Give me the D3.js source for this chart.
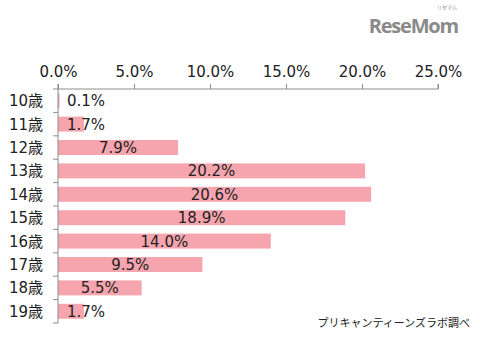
<!DOCTYPE html>
<html>
<head>
<meta charset="utf-8">
<script src="https://cdn.jsdelivr.net/npm/d3@7/dist/d3.min.js"></script>
<style>
  html, body { margin: 0; padding: 0; background: #ffffff; }
  svg { display: block; }
  text { font-family: "DejaVu Sans", "Noto Sans CJK JP", sans-serif; fill: #222; }
</style>
</head>
<body>
<svg id="chart" width="480" height="350"></svg>
<script>
// Age groups and share of respondents (%)
const ages = ["10歳", "11歳", "12歳", "13歳", "14歳", "15歳", "16歳", "17歳", "18歳", "19歳"];
const shares = [0.1, 1.7, 7.9, 20.2, 20.6, 18.9, 14.0, 9.5, 5.5, 1.7];
const xTicks = [0, 5, 10, 15, 20, 25];
const sourceNote = "プリキャンティーンズラボ調べ";

const data = ages.map((a, i) => ({ age: a, value: shares[i] }));

const svg = d3.select("#chart");
const plotL = 58, plotR = 438, plotT = 89, plotB = 323;

const x = d3.scaleLinear().domain([0, 25]).range([plotL, plotR]);
const y = d3.scaleBand().domain(ages).range([plotT, plotB]).paddingInner(0.36).paddingOuter(0.18);

const axisColor = "#8c8c8c";
const labelFont = "'DejaVu Sans', 'Noto Sans CJK JP', sans-serif";

// Bars
svg.append("g").selectAll("rect")
  .data(data)
  .join("rect")
  .attr("x", x(0))
  .attr("y", d => y(d.age))
  .attr("width", d => x(d.value) - x(0))
  .attr("height", y.bandwidth())
  .attr("fill", "#f6a4ae");

// Top axis
const xAxis = d3.axisTop(x).tickValues(xTicks).tickSize(5).tickPadding(7)
  .tickFormat(d => d.toFixed(1) + "%");
const gx = svg.append("g").attr("transform", `translate(0,${plotT})`).call(xAxis);
gx.select(".domain").attr("stroke", axisColor).attr("d", `M${plotL},${-5}V0H${plotR}V${-5}`);
gx.selectAll(".tick line").attr("stroke", axisColor);
gx.selectAll(".tick text").attr("font-size", 15).attr("fill", "#222")
  .style("font-family", labelFont);

// Left axis line and band-boundary ticks
const ga = svg.append("g");
ga.append("line").attr("x1", plotL).attr("x2", plotL).attr("y1", plotT).attr("y2", plotB)
  .attr("stroke", axisColor);
const step = (plotB - plotT) / ages.length;
ga.selectAll("line.b")
  .data(d3.range(ages.length + 1))
  .join("line")
  .attr("class", "b")
  .attr("x1", plotL - 5).attr("x2", plotL)
  .attr("y1", i => plotT + i * step).attr("y2", i => plotT + i * step)
  .attr("stroke", axisColor);

// Category labels
svg.append("g").selectAll("text")
  .data(data)
  .join("text")
  .attr("x", 43)
  .attr("y", d => y(d.age) + y.bandwidth() / 2)
  .attr("dy", "0.36em")
  .attr("text-anchor", "end")
  .attr("font-size", 15)
  .text(d => d.age);

// Value labels, centred in each bar
svg.append("g").selectAll("text")
  .data(data)
  .join("text")
  .attr("x", d => Math.max((x(0) + x(d.value)) / 2, x(0) + 28))
  .attr("y", d => y(d.age) + y.bandwidth() / 2)
  .attr("dy", "0.36em")
  .attr("text-anchor", "middle")
  .attr("font-size", 15)
  .text(d => d.value.toFixed(1) + "%");

// Source note
svg.append("text")
  .attr("x", 470).attr("y", 327)
  .attr("text-anchor", "end")
  .attr("font-size", 11)
  .style("font-family", "'Noto Sans CJK JP', sans-serif")
  .text(sourceNote);

// Site logo
svg.append("text")
  .attr("x", 458).attr("y", 33)
  .attr("text-anchor", "end")
  .attr("font-size", 20)
  .attr("font-weight", "bold")
  .attr("letter-spacing", -1.2)
  .style("font-family", "'Open Sans', 'DejaVu Sans', sans-serif")
  .style("fill", "#8a8a8a")
  .text("ReseMom");
// Kana reading above the logo
svg.append("text")
  .attr("x", 457).attr("y", 9)
  .attr("text-anchor", "end")
  .attr("font-size", 5)
  .style("font-family", "'Noto Sans CJK JP', sans-serif")
  .style("fill", "#8a8a8a")
  .text("リセマム");
</script>
</body>
</html>
